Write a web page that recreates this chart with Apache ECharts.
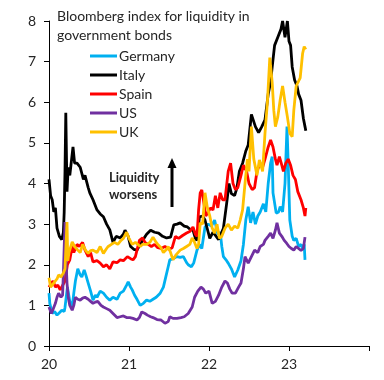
<!DOCTYPE html>
<html><head><meta charset="utf-8">
<script src="https://cdn.jsdelivr.net/npm/echarts@6/dist/echarts.min.js"></script>
<style>html,body{margin:0;padding:0;background:#fff}#c{width:384px;height:380px}</style>
</head><body><div id="c"></div>
<script>
const seriesNames = ['Germany','Italy','Spain','US','UK'];
const seriesColors = ['#00B0F0','#000000','#FF0000','#7030A0','#FFC000'];
const xTickLabels = ['20','21','22','23',''];
const titleLines = ['Bloomberg index for liquidity in','government bonds'];
const noteLines = ['Liquidity','worsens'];

const germany = [[2020.0,1.3],[2020.01,1.05],[2020.04,0.8],[2020.07,0.85],[2020.1,0.76],[2020.13,0.82],[2020.16,0.88],[2020.19,0.85],[2020.2,0.95],[2020.23,1.45],[2020.26,1.1],[2020.29,0.96],[2020.31,1.3],[2020.33,1.6],[2020.36,1.9],[2020.39,1.75],[2020.41,1.7],[2020.44,1.87],[2020.46,1.75],[2020.49,1.55],[2020.52,1.35],[2020.55,1.13],[2020.58,1.25],[2020.6,1.2],[2020.64,1.35],[2020.68,1.3],[2020.72,1.2],[2020.76,1.13],[2020.8,1.2],[2020.85,1.15],[2020.89,1.3],[2020.93,1.35],[2020.97,1.5],[2020.99,1.58],[2021.02,1.45],[2021.04,1.38],[2021.07,1.25],[2021.1,1.15],[2021.14,1.0],[2021.18,1.05],[2021.22,1.13],[2021.26,1.1],[2021.3,1.15],[2021.34,1.2],[2021.39,1.3],[2021.43,1.45],[2021.46,1.7],[2021.49,1.95],[2021.51,2.12],[2021.55,2.15],[2021.6,2.2],[2021.64,2.18],[2021.68,2.2],[2021.72,2.05],[2021.74,2.0],[2021.78,1.95],[2021.81,2.05],[2021.85,2.36],[2021.88,2.5],[2021.91,2.4],[2021.95,2.93],[2021.99,3.0],[2022.03,2.95],[2022.07,3.1],[2022.11,2.75],[2022.14,2.8],[2022.16,2.45],[2022.18,2.2],[2022.22,2.1],[2022.24,2.04],[2022.28,1.9],[2022.32,1.7],[2022.36,1.87],[2022.4,2.1],[2022.43,2.5],[2022.46,3.1],[2022.49,3.43],[2022.52,3.03],[2022.55,3.3],[2022.58,3.0],[2022.61,3.2],[2022.64,3.3],[2022.68,3.5],[2022.71,3.3],[2022.74,4.0],[2022.77,4.5],[2022.79,4.66],[2022.8,3.77],[2022.84,3.27],[2022.87,3.3],[2022.89,3.43],[2022.92,3.3],[2022.95,4.0],[2022.975,5.4],[2022.99,4.5],[2023.01,3.1],[2023.04,2.7],[2023.06,2.6],[2023.09,2.65],[2023.12,2.45],[2023.15,2.5],[2023.17,2.4],[2023.19,2.5],[2023.2,2.12]];

const italy = [[2020.0,4.1],[2020.02,3.7],[2020.04,3.6],[2020.06,3.3],[2020.08,3.4],[2020.1,2.9],[2020.13,2.7],[2020.16,2.62],[2020.18,2.8],[2020.19,3.3],[2020.2,4.3],[2020.21,5.74],[2020.225,3.8],[2020.24,4.4],[2020.26,4.2],[2020.3,4.9],[2020.32,4.5],[2020.35,4.5],[2020.39,4.4],[2020.43,4.1],[2020.45,4.2],[2020.49,3.9],[2020.51,3.77],[2020.55,3.6],[2020.6,3.35],[2020.64,3.25],[2020.68,3.18],[2020.72,3.0],[2020.76,2.86],[2020.8,2.55],[2020.84,2.7],[2020.89,2.66],[2020.93,2.75],[2020.95,2.85],[2020.99,2.7],[2021.02,2.45],[2021.06,2.38],[2021.1,2.36],[2021.14,2.5],[2021.17,2.6],[2021.22,2.75],[2021.27,2.85],[2021.32,2.8],[2021.37,2.78],[2021.42,2.7],[2021.47,2.66],[2021.52,2.68],[2021.56,2.98],[2021.6,3.0],[2021.64,3.03],[2021.69,2.95],[2021.73,2.93],[2021.77,2.86],[2021.8,2.85],[2021.83,2.65],[2021.85,2.6],[2021.88,3.18],[2021.92,3.2],[2021.95,3.1],[2021.99,2.8],[2022.01,2.65],[2022.05,2.8],[2022.09,2.7],[2022.12,2.62],[2022.14,2.6],[2022.18,2.9],[2022.22,3.5],[2022.25,4.0],[2022.28,3.75],[2022.32,3.7],[2022.35,3.9],[2022.38,4.3],[2022.42,4.5],[2022.46,4.8],[2022.49,4.95],[2022.53,5.7],[2022.58,5.4],[2022.62,5.25],[2022.66,5.4],[2022.7,5.57],[2022.74,6.2],[2022.77,6.5],[2022.79,6.87],[2022.82,7.4],[2022.86,7.6],[2022.9,7.8],[2022.92,8.0],[2022.95,7.6],[2022.98,8.0],[2023.0,7.5],[2023.02,7.4],[2023.04,6.87],[2023.07,6.55],[2023.1,6.4],[2023.12,6.2],[2023.15,6.05],[2023.18,5.6],[2023.2,5.4],[2023.21,5.3]];

const spain = [[2020.0,1.45],[2020.03,1.55],[2020.05,1.6],[2020.08,1.45],[2020.11,1.5],[2020.14,1.38],[2020.16,1.4],[2020.2,1.6],[2020.23,2.0],[2020.26,2.12],[2020.29,2.45],[2020.31,2.3],[2020.35,2.5],[2020.38,2.45],[2020.42,2.55],[2020.45,2.36],[2020.49,2.2],[2020.52,2.3],[2020.55,2.07],[2020.6,2.1],[2020.64,2.04],[2020.68,1.95],[2020.72,2.0],[2020.76,1.9],[2020.8,2.07],[2020.85,2.05],[2020.89,2.12],[2020.93,2.1],[2020.98,2.2],[2021.02,2.15],[2021.05,2.12],[2021.08,2.2],[2021.1,2.36],[2021.13,2.6],[2021.17,2.66],[2021.2,2.55],[2021.24,2.5],[2021.28,2.45],[2021.32,2.5],[2021.36,2.42],[2021.4,2.4],[2021.45,2.45],[2021.5,2.38],[2021.54,2.42],[2021.58,2.7],[2021.62,2.65],[2021.67,2.72],[2021.72,2.78],[2021.76,2.82],[2021.8,2.93],[2021.83,2.75],[2021.85,2.7],[2021.87,3.35],[2021.89,3.77],[2021.91,3.84],[2021.93,3.6],[2021.96,3.2],[2021.99,3.3],[2022.02,3.4],[2022.05,3.35],[2022.08,3.7],[2022.11,3.4],[2022.14,3.77],[2022.17,3.6],[2022.2,3.6],[2022.24,4.3],[2022.27,4.5],[2022.3,4.0],[2022.33,3.85],[2022.36,3.9],[2022.4,4.2],[2022.43,4.45],[2022.47,4.3],[2022.5,4.0],[2022.54,3.85],[2022.57,3.9],[2022.6,4.3],[2022.64,4.5],[2022.67,4.4],[2022.7,4.6],[2022.74,4.9],[2022.77,5.07],[2022.8,4.9],[2022.83,4.6],[2022.85,4.45],[2022.88,4.66],[2022.91,4.45],[2022.93,4.3],[2022.96,4.5],[2022.99,4.6],[2023.02,4.45],[2023.05,4.2],[2023.08,4.1],[2023.11,3.8],[2023.15,3.6],[2023.18,3.4],[2023.2,3.2],[2023.21,3.4]];

const us = [[2020.0,0.96],[2020.03,0.8],[2020.05,0.9],[2020.08,1.05],[2020.1,1.2],[2020.12,1.3],[2020.15,1.2],[2020.17,1.25],[2020.18,1.8],[2020.2,3.05],[2020.215,2.0],[2020.225,1.55],[2020.24,1.2],[2020.26,1.0],[2020.29,0.88],[2020.31,1.0],[2020.33,1.2],[2020.36,1.15],[2020.39,1.13],[2020.42,1.18],[2020.45,1.2],[2020.49,1.15],[2020.52,1.1],[2020.55,1.05],[2020.58,1.08],[2020.61,1.1],[2020.65,1.0],[2020.68,0.96],[2020.72,0.92],[2020.76,0.88],[2020.8,0.8],[2020.85,0.7],[2020.89,0.72],[2020.93,0.74],[2020.97,0.7],[2021.01,0.7],[2021.05,0.68],[2021.1,0.64],[2021.13,0.7],[2021.16,0.84],[2021.2,0.8],[2021.23,0.76],[2021.27,0.72],[2021.3,0.7],[2021.35,0.65],[2021.4,0.64],[2021.45,0.56],[2021.49,0.6],[2021.51,0.72],[2021.55,0.68],[2021.6,0.68],[2021.65,0.7],[2021.69,0.72],[2021.74,0.8],[2021.79,0.96],[2021.82,1.2],[2021.86,1.35],[2021.9,1.45],[2021.93,1.4],[2021.96,1.3],[2022.0,1.35],[2022.04,1.05],[2022.08,1.1],[2022.12,1.25],[2022.16,1.45],[2022.2,1.6],[2022.23,1.55],[2022.26,1.4],[2022.29,1.3],[2022.33,1.3],[2022.37,1.45],[2022.4,1.55],[2022.43,1.9],[2022.45,2.2],[2022.49,2.04],[2022.53,2.2],[2022.57,2.36],[2022.61,2.3],[2022.64,2.45],[2022.68,2.5],[2022.7,2.6],[2022.74,2.7],[2022.77,2.78],[2022.8,2.65],[2022.83,2.85],[2022.85,3.03],[2022.88,2.78],[2022.91,2.7],[2022.94,2.6],[2022.97,2.53],[2023.0,2.45],[2023.03,2.4],[2023.06,2.36],[2023.09,2.45],[2023.12,2.4],[2023.15,2.35],[2023.18,2.4],[2023.2,2.68]];

const uk = [[2020.0,1.68],[2020.02,1.45],[2020.04,1.5],[2020.07,1.58],[2020.1,1.65],[2020.12,1.75],[2020.15,1.7],[2020.18,1.8],[2020.2,1.9],[2020.215,2.6],[2020.225,3.05],[2020.235,2.1],[2020.25,2.3],[2020.29,2.56],[2020.32,2.45],[2020.36,2.36],[2020.39,2.3],[2020.42,2.5],[2020.46,2.35],[2020.49,2.28],[2020.52,2.35],[2020.55,2.36],[2020.6,2.3],[2020.64,2.45],[2020.68,2.28],[2020.72,2.4],[2020.74,2.45],[2020.78,2.5],[2020.82,2.55],[2020.86,2.5],[2020.9,2.6],[2020.93,2.65],[2020.97,2.8],[2021.0,2.65],[2021.04,2.5],[2021.08,2.55],[2021.1,2.53],[2021.14,2.45],[2021.17,2.5],[2021.22,2.5],[2021.26,2.55],[2021.3,2.68],[2021.34,2.55],[2021.36,2.5],[2021.4,2.42],[2021.43,2.3],[2021.47,2.38],[2021.49,2.45],[2021.52,2.3],[2021.55,2.12],[2021.59,2.25],[2021.64,2.36],[2021.68,2.4],[2021.72,2.45],[2021.76,2.5],[2021.79,2.66],[2021.82,2.55],[2021.85,2.4],[2021.87,2.5],[2021.89,3.03],[2021.92,3.0],[2021.95,3.77],[2021.98,3.4],[2022.01,3.2],[2022.04,2.9],[2022.07,2.78],[2022.1,3.0],[2022.13,2.65],[2022.16,2.7],[2022.2,2.9],[2022.24,3.0],[2022.28,2.85],[2022.32,2.95],[2022.36,2.9],[2022.39,3.1],[2022.42,3.35],[2022.45,4.0],[2022.48,4.6],[2022.5,4.3],[2022.53,5.4],[2022.56,4.6],[2022.6,4.2],[2022.63,4.58],[2022.67,4.3],[2022.7,5.24],[2022.73,6.0],[2022.76,7.1],[2022.79,6.48],[2022.81,5.8],[2022.83,5.4],[2022.86,5.64],[2022.89,6.06],[2022.92,6.4],[2022.95,6.0],[2022.98,5.64],[2023.01,5.24],[2023.04,5.15],[2023.06,5.8],[2023.09,6.4],[2023.11,6.48],[2023.14,6.6],[2023.17,7.2],[2023.19,7.37],[2023.21,7.3]];

const seriesData = [germany, italy, spain, us, uk];
const font = 'Lato, "Open Sans", sans-serif';
const chart = echarts.init(document.getElementById('c'), null, {renderer:'canvas'});
chart.setOption({
  animation: false,
  backgroundColor: '#fff',
  grid: {left: 49, right: 15, top: 21, bottom: 34},
  title: {
    text: titleLines.join('\n'), left: 52, top: 2,
    textStyle: {fontFamily: font, fontSize: 14, fontWeight: 'normal', color: '#262626', lineHeight: 19}
  },
  legend: {
    orient: 'vertical', left: 85, top: 43, icon: 'rect', itemWidth: 27, itemHeight: 3, itemGap: 3,
    textStyle: {fontFamily: font, fontSize: 14, color: '#262626', lineHeight: 16, padding: [0,0,0,-3]},
    data: seriesNames
  },
  xAxis: {
    type: 'value', min: 2020, max: 2024, interval: 1,
    axisLine: {show: true, lineStyle: {color: '#000', width: 1}},
    axisTick: {show: true, length: 5, lineStyle: {color: '#000'}},
    splitLine: {show: false},
    axisLabel: {fontFamily: font, fontSize: 14, color: '#262626', margin: 11,
      formatter: v => xTickLabels[Math.round(v - 2020)]}
  },
  yAxis: {
    type: 'value', min: 0, max: 8, interval: 1,
    axisLine: {show: true, lineStyle: {color: '#000', width: 1}},
    axisTick: {show: true, length: 5, lineStyle: {color: '#000'}},
    splitLine: {show: false},
    axisLabel: {fontFamily: font, fontSize: 14, color: '#262626', margin: 13}
  },
  graphic: [
    {type: 'text', left: 109, top: 169, style: {text: noteLines.join('\n'), font: 'bold 13px ' + font, fill: '#262626', lineHeight: 17}},
    {type: 'line', shape: {x1: 172, y1: 207, x2: 172, y2: 166}, style: {stroke: '#000', lineWidth: 3}},
    {type: 'polygon', shape: {points: [[167.5,168],[176.5,168],[172,158]]}, style: {fill: '#000'}}
  ],
  series: seriesNames.map((n, i) => ({
    name: n, type: 'line', data: seriesData[i], showSymbol: false, symbol: 'none',
    lineStyle: {color: seriesColors[i], width: 2.8}, itemStyle: {color: seriesColors[i]},
    clip: true
  }))
});
</script></body></html>
